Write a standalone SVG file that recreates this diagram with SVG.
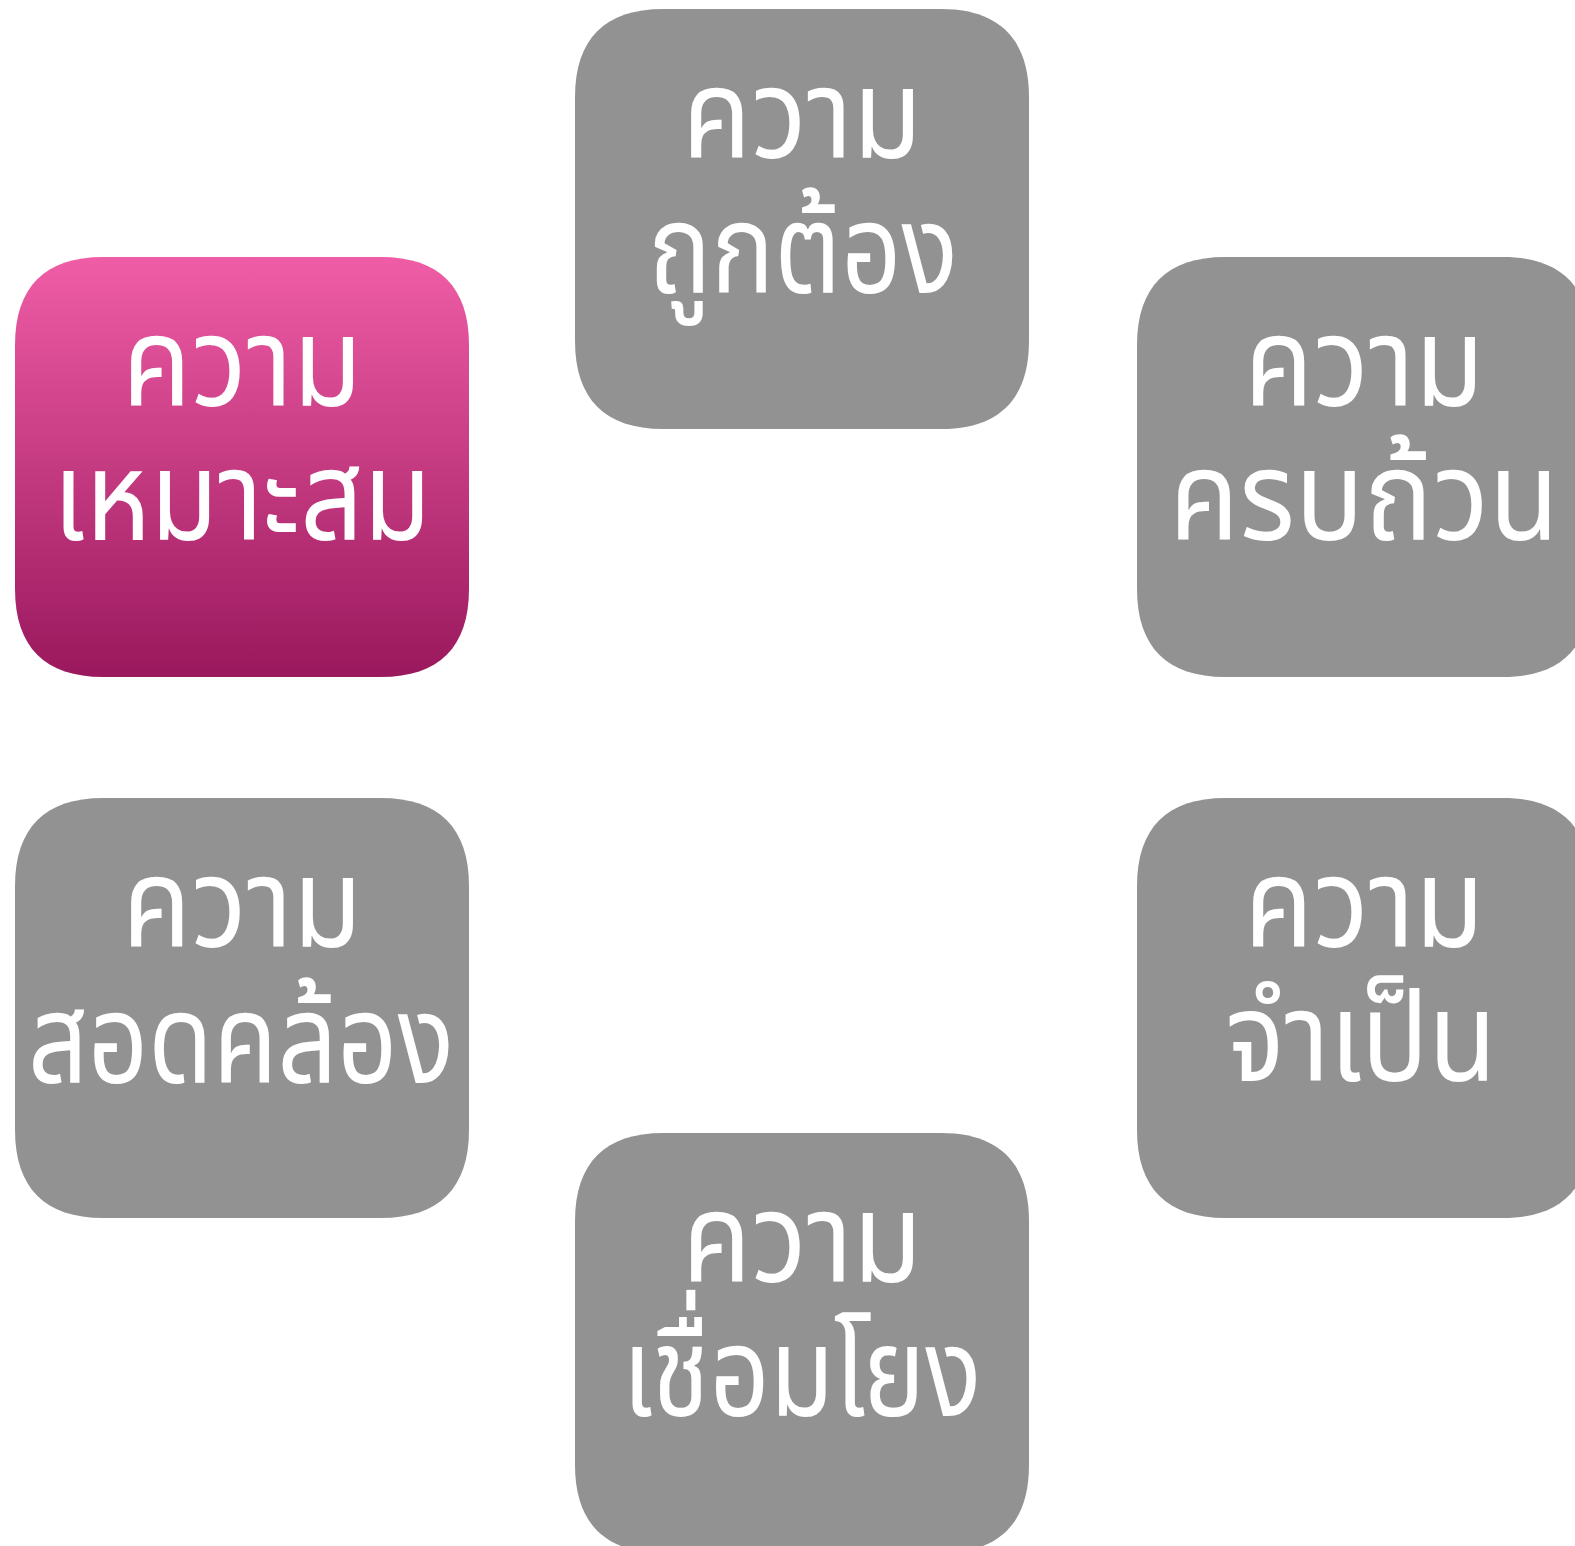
<svg xmlns="http://www.w3.org/2000/svg" xmlns:xlink="http://www.w3.org/1999/xlink" width="1575" height="1546" viewBox="0 0 1575 1546">
<style>
.box{fill:#929292;}
.pink{fill:url(#pinkGrad);}
.lbl{font-family:"Noto Sans Thai","Noto Sans","DejaVu Sans",sans-serif;font-size:125px;fill:#ffffff;text-anchor:middle;}
</style>
<defs>
<linearGradient id="pinkGrad" x1="0" y1="0" x2="0" y2="1">
<stop offset="0" stop-color="#EF5DA6"/>
<stop offset="1" stop-color="#9A185D"/>
</linearGradient>
<path id="sq" d="M88,0 H366 C424,0 454,30 454,88 V332 C454,390 424,420 366,420 H88 C30,420 0,390 0,332 V88 C0,30 30,0 88,0 Z"/>
</defs>
<g id="connectors"></g>
<g id="node-top">
<use xlink:href="#sq" href="#sq" x="575" y="9" class="box"/>
<text class="lbl" x="802" y="158" textLength="240" lengthAdjust="spacingAndGlyphs">ความ</text>
<text class="lbl" x="803" y="293" textLength="310" lengthAdjust="spacingAndGlyphs">ถูกต้อง</text>
</g>
<g id="node-left-top">
<use xlink:href="#sq" href="#sq" x="15" y="257" class="pink"/>
<text class="lbl" x="242" y="406" textLength="240" lengthAdjust="spacingAndGlyphs">ความ</text>
<text class="lbl" x="242" y="540" textLength="378" lengthAdjust="spacingAndGlyphs">เหมาะสม</text>
</g>
<g id="node-right-top">
<use xlink:href="#sq" href="#sq" x="1137" y="257" class="box"/>
<text class="lbl" x="1364" y="406" textLength="240" lengthAdjust="spacingAndGlyphs">ความ</text>
<text class="lbl" x="1364" y="540" textLength="390" lengthAdjust="spacingAndGlyphs">ครบถ้วน</text>
</g>
<g id="node-left-bottom">
<use xlink:href="#sq" href="#sq" x="15" y="798" class="box"/>
<text class="lbl" x="242" y="947" textLength="240" lengthAdjust="spacingAndGlyphs">ความ</text>
<text class="lbl" x="241" y="1083" textLength="426" lengthAdjust="spacingAndGlyphs">สอดคล้อง</text>
</g>
<g id="node-right-bottom">
<use xlink:href="#sq" href="#sq" x="1137" y="798" class="box"/>
<text class="lbl" x="1364" y="947" textLength="240" lengthAdjust="spacingAndGlyphs">ความ</text>
<text class="lbl" x="1361" y="1081" textLength="271" lengthAdjust="spacingAndGlyphs">จำเป็น</text>
</g>
<g id="node-bottom">
<use xlink:href="#sq" href="#sq" x="575" y="1133" class="box"/>
<text class="lbl" x="802" y="1282" textLength="240" lengthAdjust="spacingAndGlyphs">ความ</text>
<text class="lbl" x="802" y="1416" textLength="359" lengthAdjust="spacingAndGlyphs">เชื่อมโยง</text>
</g>
</svg>
